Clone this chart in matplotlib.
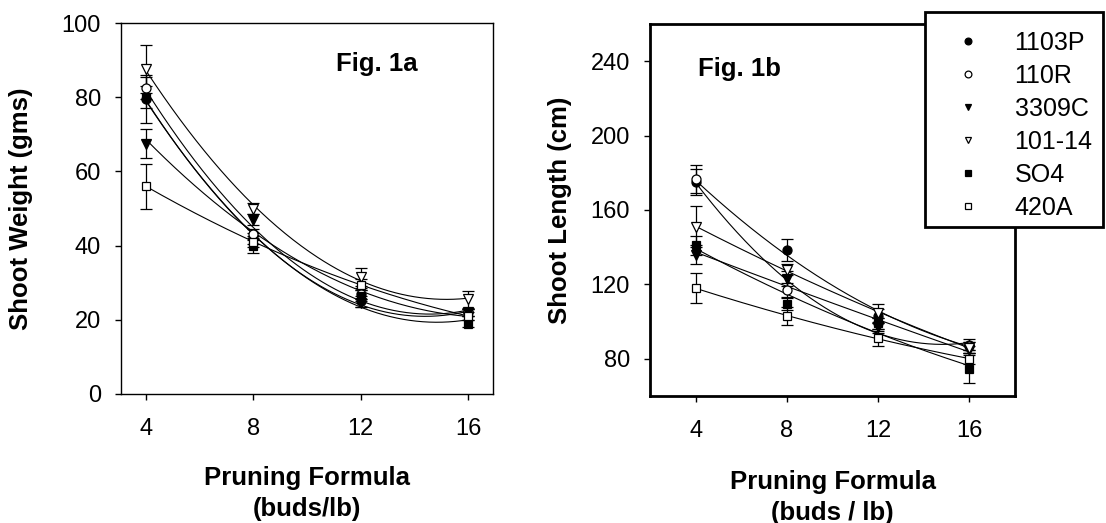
import numpy as np
import matplotlib
matplotlib.use("Agg")
import matplotlib.pyplot as plt
from matplotlib.lines import Line2D
from matplotlib.patches import Rectangle

plt.rcParams['font.family'] = ['Liberation Sans', 'DejaVu Sans']

x = [4, 8, 12, 16]
cultivars = ['1103P', '110R', '3309C', '101-14', 'SO4', '420A']

# Fig. 1a  Shoot weight (gms)
wt_1103P = [79.5, 42, 25, 22]
wt_110R = [82.5, 43, 27, 22]
wt_3309C = [67.5, 47, 24.5, 22]
wt_10114 = [87.5, 50, 31.5, 25.5]
wt_SO4 = [80, 40, 26.5, 19]
wt_420A = [56, 41, 29.5, 21]
wt_err_1103P = [6.5, 1.5, 1.5, 1.0]
wt_err_110R = [3, 1.5, 1.5, 1.0]
wt_err_3309C = [4, 1.5, 1.0, 1.0]
wt_err_10114 = [6.5, 1.5, 2.5, 2.2]
wt_err_SO4 = [3, 2, 1.5, 1.0]
wt_err_420A = [6, 1.5, 1.5, 1.0]

# Fig. 1b  Shoot length (cm)
ln_1103P = [175, 138.5, 103, 87.5]
ln_110R = [176.5, 117, 99, 87]
ln_3309C = [136, 123, 97, 85]
ln_10114 = [151, 128, 104.5, 86]
ln_SO4 = [141, 109.5, 99, 74.5]
ln_420A = [118, 103, 91, 80]
ln_err_1103P = [7, 6, 4, 3]
ln_err_110R = [7.5, 4, 3, 2]
ln_err_3309C = [5, 4, 3, 2]
ln_err_10114 = [11, 3, 5, 3]
ln_err_SO4 = [5, 3, 3, 7.5]
ln_err_420A = [8, 5, 4, 3]

wt = [wt_1103P, wt_110R, wt_3309C, wt_10114, wt_SO4, wt_420A]
wt_err = [wt_err_1103P, wt_err_110R, wt_err_3309C, wt_err_10114, wt_err_SO4, wt_err_420A]
ln = [ln_1103P, ln_110R, ln_3309C, ln_10114, ln_SO4, ln_420A]
ln_err = [ln_err_1103P, ln_err_110R, ln_err_3309C, ln_err_10114, ln_err_SO4, ln_err_420A]

markers = ['o', 'o', 'v', 'v', 's', 's']
faces = ['black', 'white', 'black', 'white', 'black', 'white']
msizes = [6.5, 6.5, 6.5, 6.5, 5.5, 5.5]

W, H = 1106, 523
fig = plt.figure(figsize=(W / 100, H / 100), dpi=100)
ax1 = fig.add_axes([121/W, 1-394/H, (493-121)/W, (394-23)/H])
ax2 = fig.add_axes([650/W, 1-396/H, (1015-650)/W, (396-24)/H])

def draw(ax, data, errs):
    xs = np.array(x, dtype=float)
    xf = np.linspace(4, 16, 200)
    for vals in data:
        coef = np.polyfit(xs, vals, 2)
        ax.plot(xf, np.polyval(coef, xf), color='black', lw=0.8, zorder=2)
    for vals, e, m, fc, ms in zip(data, errs, markers, faces, msizes):
        ax.errorbar(xs, vals, yerr=e, fmt=m, mfc=fc, mec='black', mew=0.9,
                    ms=ms, ecolor='black', elinewidth=0.9, capsize=4,
                    capthick=0.9, zorder=3)

draw(ax1, wt, wt_err)
draw(ax2, ln, ln_err)

tick_fs = 17
lab_fs = 18.5

ax1.set_xlim(3.07, 16.93)
ax1.set_ylim(0, 100)
ax1.set_xticks(x)
ax1.set_yticks([0, 20, 40, 60, 80, 100])
ax1.text(12.6, 89, 'Fig. 1a', fontsize=18.5, fontweight='bold', ha='center', va='center')
ax1.set_ylabel('Shoot Weight (gms)', fontsize=lab_fs, fontweight='bold')
ax1.yaxis.set_label_coords((33 - 121) / 372, 0.5)
ax1.set_xlabel('Pruning Formula\n(buds/lb)', fontsize=lab_fs, fontweight='bold',
               linespacing=1.35)
ax1.xaxis.set_label_coords(0.5, (394 - 466) / 371)
for sp in ax1.spines.values():
    sp.set_linewidth(1.0)

ax2.set_xlim(2, 18)
ax2.set_ylim(60, 260)
ax2.set_xticks(x)
ax2.set_yticks([80, 120, 160, 200, 240])
ax2.text(5.93, 236, 'Fig. 1b', fontsize=18.5, fontweight='bold', ha='center', va='center')
ax2.set_ylabel('Shoot Length (cm)', fontsize=lab_fs, fontweight='bold')
ax2.yaxis.set_label_coords((572 - 650) / 365, 0.5)
ax2.set_xlabel('Pruning Formula\n(buds / lb)', fontsize=lab_fs, fontweight='bold',
               linespacing=1.35)
ax2.xaxis.set_label_coords(0.5, (396 - 470) / 372)
for sp in ax2.spines.values():
    sp.set_linewidth(2.0)

for ax in (ax1, ax2):
    ax.tick_params(axis='x', direction='out', length=4.5, width=1,
                   labelsize=tick_fs, pad=13)
    ax.tick_params(axis='y', direction='out', length=4.5, width=1,
                   labelsize=tick_fs, pad=10)

# legend box
fig.add_artist(Rectangle((925/W, 1-227/H), (1103-925)/W, (227-12)/H,
                         transform=fig.transFigure, facecolor='white',
                         edgecolor='black', lw=2.0, zorder=9))

handles = [Line2D([], [], ls='none', marker=m, mfc=fc, mec='black', mew=0.9,
                  ms=ms * 0.75) for m, fc, ms in zip(markers, faces, msizes)]
leg = fig.legend(handles, cultivars, loc='upper left',
                 bbox_to_anchor=(950/W, 1-31/H),
                 borderaxespad=0, borderpad=0, fontsize=18, frameon=False,
                 handlelength=1.4, handletextpad=1.18, labelspacing=0.36)
leg.set_zorder(10)

fig.savefig('out.png', dpi=100)
